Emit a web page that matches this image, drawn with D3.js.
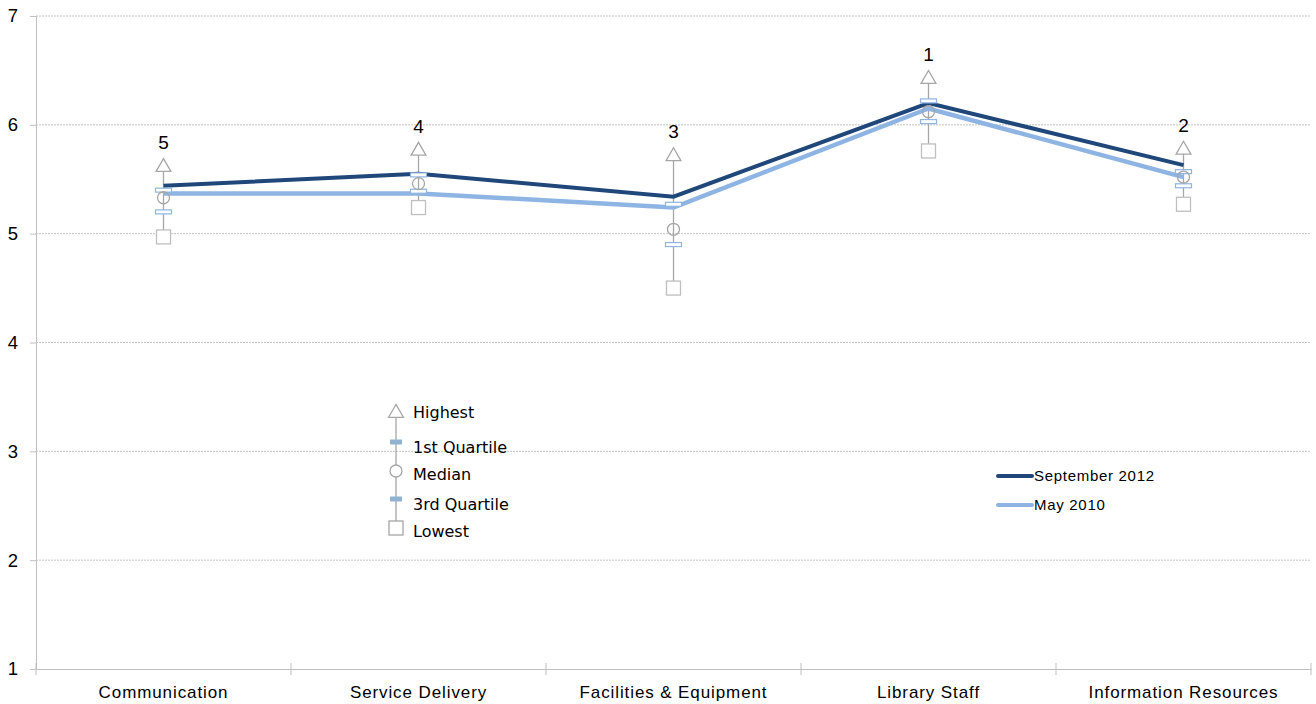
<!DOCTYPE html>
<html lang="en">
<head>
<meta charset="utf-8">
<title>Library survey scores</title>
<script src="https://d3js.org/d3.v7.min.js"></script>
<style>
  body { margin: 0; background: #fff; }
  text { font-family: "Liberation Sans", Arial, sans-serif; fill: #000; }
  .lg text { font-family: "DejaVu Sans", Tahoma, sans-serif; }
</style>
</head>
<body>
<div id="chart"></div>
<script>
var categories = ["Communication", "Service Delivery", "Facilities & Equipment", "Library Staff", "Information Resources"];
var sep2012 = [5.44, 5.55, 5.34, 6.20, 5.63];
var may2010 = [5.37, 5.37, 5.24, 6.15, 5.52];
var highest = [5.62, 5.77, 5.72, 6.43, 5.78];
var quart1  = [5.40, 5.54, 5.27, 6.22, 5.57];
var median  = [5.33, 5.46, 5.04, 6.12, 5.52];
var quart3  = [5.20, 5.39, 4.90, 6.03, 5.44];
var lowest  = [4.97, 5.24, 4.50, 5.76, 5.27];
var ranks   = ["5", "4", "3", "1", "2"];
var yTicks  = [1, 2, 3, 4, 5, 6, 7];

var w = 1316, h = 704;
var padL = 36, padR = 1311, padT = 16, padB = 669;
var darkBlue = "#1f477a", lightBlue = "#8db4e2", grey = "#a6a6a6";

var svg = d3.select("#chart").append("svg")
  .attr("width", w).attr("height", h);

var xScale = d3.scaleBand().domain(categories).range([padL, padR]);
var yScale = d3.scaleLinear().domain([1, 7]).range([padB, padT]);

// gridlines
svg.append("g").selectAll("line")
  .data(yTicks.slice(1))
  .enter().append("line")
  .attr("x1", padL).attr("x2", padR)
  .attr("y1", function(d){ return yScale(d); })
  .attr("y2", function(d){ return yScale(d); })
  .attr("stroke", "#c4c4c4").attr("stroke-dasharray", "2,1");

// y axis
var yAxis = svg.append("g")
  .attr("transform", "translate(" + padL + ",0)")
  .call(d3.axisLeft(yScale).tickValues(yTicks).tickFormat(d3.format("d")).tickSize(6).tickPadding(12));
yAxis.select(".domain").attr("stroke", "#bfbfbf");
yAxis.selectAll(".tick line").attr("stroke", "#bfbfbf");
yAxis.selectAll("text").style("font-size", "18.5px").attr("fill", "#000");

// x axis
var xAxis = svg.append("g")
  .attr("transform", "translate(0," + padB + ")")
  .call(d3.axisBottom(xScale).tickSize(0).tickPadding(17));
xAxis.select(".domain").attr("stroke", "#bfbfbf");
xAxis.selectAll("text").style("font-size", "17px").style("letter-spacing", "0.9px").attr("fill", "#000");
svg.append("g").selectAll("line")
  .data(categories.concat(["end"]))
  .enter().append("line")
  .attr("x1", function(d, i){ return padL + i * xScale.step(); })
  .attr("x2", function(d, i){ return padL + i * xScale.step(); })
  .attr("y1", padB - 6).attr("y2", padB + 6)
  .attr("stroke", "#bfbfbf");

function cx(i){ return xScale(categories[i]) + xScale.bandwidth() / 2; }

// whiskers
var idx = d3.range(categories.length);
svg.append("g").selectAll("line")
  .data(idx).enter().append("line")
  .attr("x1", cx).attr("x2", cx)
  .attr("y1", function(i){ return yScale(highest[i]); })
  .attr("y2", function(i){ return yScale(lowest[i]); })
  .attr("stroke", grey).attr("stroke-width", 1.3);

// series lines
var line = d3.line().x(function(d, i){ return cx(i); }).y(function(d){ return yScale(d); });
svg.append("path").datum(may2010).attr("d", line)
  .attr("fill", "none").attr("stroke", lightBlue).attr("stroke-width", 4.5);
svg.append("path").datum(sep2012).attr("d", line)
  .attr("fill", "none").attr("stroke", darkBlue).attr("stroke-width", 4);

// quartile bars
[quart1, quart3].forEach(function(arr){
  svg.append("g").selectAll("rect")
    .data(idx).enter().append("rect")
    .attr("x", function(i){ return cx(i) - 8; })
    .attr("y", function(i){ return yScale(arr[i]) - 2; })
    .attr("width", 16).attr("height", 4)
    .attr("fill", "#fff").attr("stroke", lightBlue).attr("stroke-width", 1.2);
});

// median circles
svg.append("g").selectAll("circle")
  .data(idx).enter().append("circle")
  .attr("cx", cx).attr("cy", function(i){ return yScale(median[i]); })
  .attr("r", 6).attr("fill", "none").attr("stroke", grey).attr("stroke-width", 1.3);

// highest triangles
var tri = d3.symbol().type(d3.symbolTriangle).size(95);
svg.append("g").selectAll("path")
  .data(idx).enter().append("path")
  .attr("d", tri)
  .attr("transform", function(i){ return "translate(" + cx(i) + "," + (yScale(highest[i]) + 1) + ")"; })
  .attr("fill", "#fff").attr("stroke", grey).attr("stroke-width", 1.3);

// lowest squares
svg.append("g").selectAll("rect")
  .data(idx).enter().append("rect")
  .attr("x", function(i){ return cx(i) - 7; })
  .attr("y", function(i){ return yScale(lowest[i]) - 7; })
  .attr("width", 14).attr("height", 14)
  .attr("fill", "#fff").attr("stroke", "#bfbfbf").attr("stroke-width", 1.3);

// rank labels
svg.append("g").selectAll("text")
  .data(idx).enter().append("text")
  .attr("x", cx).attr("y", function(i){ return yScale(highest[i]) - 17; })
  .attr("text-anchor", "middle").style("font-size", "19px")
  .text(function(i){ return ranks[i]; });

// box legend
var lg = svg.append("g").attr("class", "lg").attr("transform", "translate(396,0)");
var lgItems = ["Highest", "1st Quartile", "Median", "3rd Quartile", "Lowest"];
var lgY = [412, 442, 471, 499, 528];
var lgTextY = [412, 447, 474, 504, 531];
lg.append("line").attr("x1", 0).attr("x2", 0).attr("y1", lgY[0]).attr("y2", lgY[4])
  .attr("stroke", grey).attr("stroke-width", 1.3);
lg.append("path").attr("d", tri).attr("transform", "translate(0," + (lgY[0] + 1) + ")")
  .attr("fill", "#fff").attr("stroke", grey).attr("stroke-width", 1.3);
[1, 3].forEach(function(k){
  lg.append("rect").attr("x", -6).attr("y", lgY[k] - 2.5).attr("width", 12).attr("height", 5)
    .attr("fill", "#8fb3d0");
});
lg.append("circle").attr("cx", 0).attr("cy", lgY[2]).attr("r", 6)
  .attr("fill", "#fff").attr("stroke", grey).attr("stroke-width", 1.3);
lg.append("rect").attr("x", -7).attr("y", lgY[4] - 7).attr("width", 14).attr("height", 14)
  .attr("fill", "#fff").attr("stroke", grey).attr("stroke-width", 1.3);
lg.selectAll("text.item").data(lgItems).enter().append("text")
  .attr("x", 17).attr("y", function(d, i){ return lgTextY[i] + 6; })
  .style("font-size", "16px")
  .text(function(d){ return d; });

// series legend
var seriesNames = ["September 2012", "May 2010"];
var seriesColors = [darkBlue, lightBlue];
var sl = svg.append("g").attr("transform", "translate(998,0)");
seriesNames.forEach(function(name, i){
  var yy = 476 + i * 29;
  sl.append("line").attr("x1", 0).attr("x2", 34).attr("y1", yy).attr("y2", yy)
    .attr("stroke", seriesColors[i]).attr("stroke-width", 4).attr("stroke-linecap", "round");
  sl.append("text").attr("x", 36).attr("y", yy + 5).style("font-size", "15px")
    .style("letter-spacing", "0.7px").text(name);
});
</script>
</body>
</html>
